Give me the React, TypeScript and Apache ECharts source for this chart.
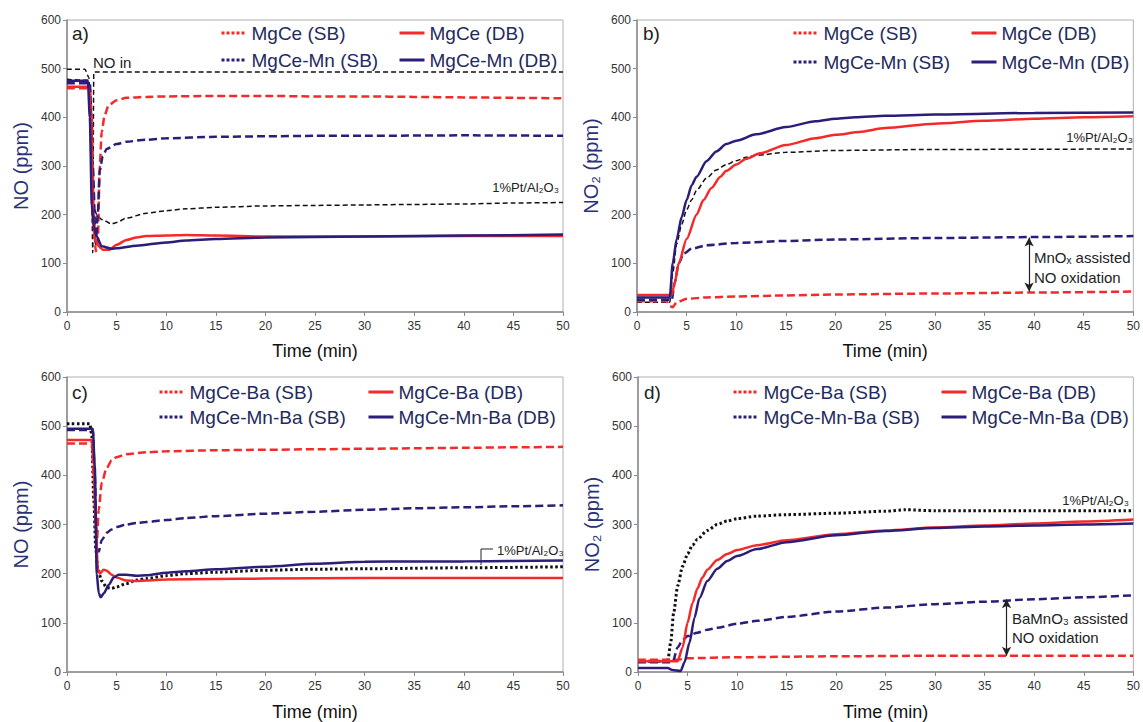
import React, { useEffect, useRef } from "react";
import * as echarts from "echarts";

// ---------- data (time in min, concentration in ppm) ----------
const xTicks = [0, 5, 10, 15, 20, 25, 30, 35, 40, 45, 50];
const yTicks = [0, 100, 200, 300, 400, 500, 600];

// panel a) NO
const aNOin = [[0, 499], [1.8, 499], [2.2, 482], [2.45, 300], [2.6, 122], [2.66, 122], [2.7, 493], [50, 493]];
const aPt = [[0, 478], [2.2, 476], [2.45, 330], [2.7, 215], [3, 200], [3.5, 190], [4.5, 181], [5, 184], [6, 193], [8, 203], [10, 208], [12, 212], [15, 215], [20, 218], [25, 219], [30, 220], [35, 221], [40, 222], [45, 224], [50, 225]];
const aMgCeSB = [[0, 460], [2.3, 460], [2.5, 400], [2.7, 200], [2.9, 125], [3.1, 140], [3.3, 300], [3.5, 370], [3.8, 405], [4.2, 425], [5, 435], [6, 440], [8, 442], [10, 443], [15, 444], [20, 444], [25, 443], [30, 443], [35, 442], [40, 441], [45, 440], [50, 439]];
const aMgCeMnSB = [[0, 470], [2.3, 470], [2.6, 300], [2.9, 140], [3.1, 200], [3.3, 290], [3.6, 320], [4, 335], [5, 345], [6, 350], [8, 354], [10, 357], [15, 360], [20, 361], [25, 362], [30, 362], [40, 363], [50, 362]];
const aMgCeDB = [[0, 463], [2.2, 463], [2.4, 400], [2.6, 200], [2.8, 150], [3.2, 135], [3.6, 128], [4.3, 128], [5, 138], [6, 148], [7, 153], [8, 156], [10, 157], [12, 158], [15, 157], [20, 155], [30, 155], [40, 156], [50, 156]];
const aMgCeMnDB = [[0, 475], [2.1, 475], [2.3, 400], [2.5, 220], [2.7, 175], [3, 155], [3.5, 135], [4.5, 130], [5, 131], [7, 136], [10, 143], [12, 147], [15, 150], [20, 153], [25, 154], [30, 155], [40, 157], [50, 159]];

// panel b) NO2
const bPt = [[0, 20], [3.3, 20], [3.6, 80], [4, 140], [4.5, 180], [5, 210], [5.5, 230], [6, 250], [7, 275], [8, 292], [9, 303], [10, 311], [11, 318], [12, 322], [15, 328], [20, 332], [30, 334], [50, 335]];
const bMgCeSB = [[0, 22], [3, 22], [3.3, 12], [3.6, 10], [4, 20], [5, 27], [7, 30], [10, 32], [15, 34], [20, 36], [30, 38], [40, 40], [50, 42]];
const bMgCeMnSB = [[0, 25], [3.5, 25], [3.8, 60], [4.2, 100], [4.7, 120], [5.5, 130], [7, 137], [10, 142], [15, 146], [20, 149], [30, 152], [40, 154], [50, 156]];
const bMgCeDB = [[0, 35], [3.5, 35], [3.8, 60], [4.2, 100], [5, 150], [6, 200], [6.7, 230], [7.5, 255], [8.4, 278], [9, 290], [10, 303], [11, 315], [12.4, 326], [15, 343], [18, 357], [20, 364], [22.4, 370], [25, 378], [30, 387], [35, 393], [40, 397], [45, 400], [50, 402]];
const bMgCeMnDB = [[0, 30], [3.3, 30], [3.6, 100], [4, 150], [4.5, 195], [5, 230], [5.5, 260], [6, 278], [7, 310], [8, 330], [9, 345], [10, 352], [12, 365], [15, 380], [18, 392], [20, 397], [22, 400], [25, 403], [30, 406], [40, 409], [50, 410]];

// panel c) NO
const cPt = [[0, 505], [2.3, 505], [2.5, 480], [2.7, 350], [2.9, 250], [3.1, 210], [3.5, 185], [4, 172], [4.5, 170], [5, 173], [6, 180], [7, 187], [8, 190], [10, 196], [12, 200], [15, 203], [20, 207], [25, 209], [30, 210], [40, 212], [50, 214]];
const cMgCeBaSB = [[0, 465], [2.5, 465], [2.7, 400], [2.9, 300], [3, 260], [3.2, 330], [3.5, 385], [4, 415], [4.5, 430], [5, 437], [6, 443], [8, 447], [10, 449], [15, 451], [20, 452], [25, 453], [30, 454], [35, 455], [40, 456], [45, 457], [50, 458]];
const cMgCeMnBaSB = [[0, 492], [2.6, 492], [2.8, 400], [3, 250], [3.2, 245], [3.5, 268], [4, 283], [4.5, 290], [5, 295], [6, 300], [7, 303], [8, 305], [10, 309], [12, 313], [15, 317], [20, 322], [25, 326], [30, 330], [35, 333], [40, 335], [45, 337], [50, 339]];
const cMgCeBaDB = [[0, 472], [2.5, 472], [2.7, 420], [2.9, 300], [3.1, 210], [3.3, 200], [3.7, 208], [4, 206], [4.5, 198], [5, 192], [6, 186], [7, 185], [8, 186], [10, 188], [15, 189], [20, 190], [30, 191], [40, 191], [50, 191]];
const cMgCeMnBaDB = [[0, 495], [2.6, 495], [2.8, 420], [3, 200], [3.2, 160], [3.4, 152], [3.7, 160], [4.2, 177], [4.7, 192], [5.2, 198], [6, 198], [7, 196], [8, 197], [10, 202], [12, 205], [15, 209], [20, 214], [25, 220], [30, 224], [35, 225], [40, 225], [45, 226], [50, 227]];

// panel d) NO2
const dPt = [[0, 22], [3, 22], [3.3, 60], [3.6, 120], [4, 175], [4.5, 215], [5, 240], [5.5, 258], [6, 270], [7, 288], [8, 300], [9, 307], [10, 312], [12, 317], [15, 320], [20, 323], [25, 327], [27, 330], [30, 328], [40, 328], [50, 328]];
const dMgCeBaSB = [[0, 25], [4, 25], [5, 28], [10, 30], [20, 32], [30, 33], [40, 33], [50, 33]];
const dMgCeMnBaSB = [[0, 20], [3.5, 20], [4, 50], [4.5, 65], [5, 73], [6, 80], [7, 86], [8, 90], [10, 98], [12, 104], [15, 112], [20, 123], [25, 131], [30, 138], [35, 143], [40, 148], [45, 152], [50, 156]];
const dMgCeBaDB = [[0, 22], [4, 22], [4.5, 50], [5, 100], [5.5, 140], [6, 170], [6.5, 192], [7, 208], [8, 228], [9, 240], [10, 248], [12, 258], [15, 268], [20, 280], [25, 288], [30, 294], [35, 298], [40, 302], [45, 306], [50, 310]];
const dMgCeMnBaDB = [[0, 8], [3, 8], [3.5, 4], [4.3, 2], [4.7, 20], [5.2, 60], [5.7, 110], [6.2, 150], [7, 185], [8, 210], [9, 226], [10, 236], [12, 250], [15, 264], [20, 278], [25, 287], [30, 293], [35, 296], [40, 298], [45, 300], [50, 302]];

// arrows (time, upper, lower)
const bArrow = [39.5, 153, 42];
const dArrow = [37.2, 148, 33];

const FONT = "Liberation Sans, Arial, Helvetica, sans-serif";
const RED = "#f42a2a";
const BLUE = "#2b1d78";
const NAVY_TEXT = "#1f2a5e";

type Kind = "sb" | "db" | "ref" | "dot";

function mk(name: string, data: number[][], color: string, kind: Kind, idx: number, extra: any = {}) {
  const ls: any = { color, width: 2.5, type: "solid" };
  if (kind === "sb") ls.type = [8, 4];
  if (kind === "ref") { ls.type = [5, 3]; ls.width = 1.5; }
  if (kind === "dot") { ls.type = [2.5, 2.5]; ls.width = 3; }
  return {
    type: "line",
    name,
    data,
    xAxisIndex: idx,
    yAxisIndex: idx,
    symbol: "none",
    smooth: 0.25,
    smoothMonotone: "x",
    lineStyle: ls,
    itemStyle: { color },
    silent: true,
    ...extra,
  };
}

function arrowLine(a: number[]) {
  return {
    silent: true,
    symbol: ["arrow", "arrow"],
    symbolSize: [7, 9],
    label: { show: false },
    lineStyle: { color: "#222", type: "solid", width: 1.2 },
    itemStyle: { color: "#222" },
    data: [[{ coord: [a[0], a[1]] }, { coord: [a[0], a[2]] }]],
  };
}

const grids = [
  { left: 67, top: 20, width: 496, height: 292 },
  { left: 637, top: 20, width: 497, height: 292 },
  { left: 67, top: 377, width: 496, height: 296 },
  { left: 638, top: 377, width: 496, height: 296 },
];
const yNames = ["NO (ppm)", "NO\u2082 (ppm)", "NO (ppm)", "NO\u2082 (ppm)"];

function legendCol(left: number, top: number, gap: number, items: { name: string; dotted: boolean }[]) {
  return {
    orient: "vertical",
    left,
    top,
    padding: 0,
    itemGap: gap,
    itemWidth: 25,
    itemHeight: 12,
    selectedMode: false,
    itemStyle: { opacity: 0, borderWidth: 0 },
    textStyle: { fontSize: 19, color: NAVY_TEXT, fontFamily: FONT, lineHeight: 20 },
    data: items.map((it) => ({
      name: it.name,
      itemStyle: { opacity: 0, borderWidth: 0 },
      lineStyle: it.dotted ? { type: [3, 2], width: 3 } : { type: "solid", width: 3 },
    })),
  };
}

export default function App() {
  const ref = useRef<HTMLDivElement>(null);
  useEffect(() => {
    if (!ref.current) return;
    const chart = echarts.init(ref.current, null, { renderer: "svg" });
    const xAxis = grids.map((_, i) => ({
      type: "value",
      gridIndex: i,
      min: 0,
      max: 50,
      interval: 5,
      name: "Time (min)",
      nameLocation: "middle",
      nameGap: i < 2 ? 30 : 31,
      nameTextStyle: { fontSize: 18, color: "#111", fontFamily: FONT },
      axisLine: { lineStyle: { color: "#8a8a8a", width: 1.5 } },
      axisTick: { show: true, length: 4, lineStyle: { color: "#8a8a8a" } },
      axisLabel: { fontSize: 12, color: "#333", fontFamily: FONT, margin: 8 },
      splitLine: { show: false },
    }));
    const yAxis = grids.map((_, i) => ({
      type: "value",
      gridIndex: i,
      min: 0,
      max: 600,
      interval: 100,
      name: yNames[i],
      nameLocation: "middle",
      nameGap: 36,
      nameTextStyle: { fontSize: 20, color: "#2b3175", fontFamily: FONT },
      axisLine: { show: true, lineStyle: { color: "#8a8a8a", width: 1.5 } },
      axisTick: { show: true, length: 4, lineStyle: { color: "#8a8a8a" } },
      axisLabel: { fontSize: 12, color: "#333", fontFamily: FONT, margin: 6 },
      splitLine: { show: false },
    }));

    const series = [
      mk("NO in", aNOin, "#111", "ref", 0),
      mk("1%Pt/Al2O3 a", aPt, "#111", "ref", 0),
      mk("MgCe (SB)", aMgCeSB, RED, "sb", 0),
      mk("MgCe-Mn (SB)", aMgCeMnSB, BLUE, "sb", 0),
      mk("MgCe (DB)", aMgCeDB, RED, "db", 0),
      mk("MgCe-Mn (DB)", aMgCeMnDB, BLUE, "db", 0),

      mk("1%Pt/Al2O3 b", bPt, "#111", "ref", 1),
      mk("MgCe (SB)", bMgCeSB, RED, "sb", 1),
      mk("MgCe-Mn (SB)", bMgCeMnSB, BLUE, "sb", 1, { markLine: arrowLine(bArrow) }),
      mk("MgCe (DB)", bMgCeDB, RED, "db", 1),
      mk("MgCe-Mn (DB)", bMgCeMnDB, BLUE, "db", 1),

      mk("1%Pt/Al2O3 c", cPt, "#111", "dot", 2),
      mk("MgCe-Ba (SB)", cMgCeBaSB, RED, "sb", 2),
      mk("MgCe-Mn-Ba (SB)", cMgCeMnBaSB, BLUE, "sb", 2),
      mk("MgCe-Ba (DB)", cMgCeBaDB, RED, "db", 2),
      mk("MgCe-Mn-Ba (DB)", cMgCeMnBaDB, BLUE, "db", 2),

      mk("1%Pt/Al2O3 d", dPt, "#111", "dot", 3),
      mk("MgCe-Ba (SB)", dMgCeBaSB, RED, "sb", 3),
      mk("MgCe-Mn-Ba (SB)", dMgCeMnBaSB, BLUE, "sb", 3, { markLine: arrowLine(dArrow) }),
      mk("MgCe-Ba (DB)", dMgCeBaDB, RED, "db", 3),
      mk("MgCe-Mn-Ba (DB)", dMgCeMnBaDB, BLUE, "db", 3),
    ];

    const legend = [
      legendCol(220, 23, 7, [{ name: "MgCe (SB)", dotted: true }, { name: "MgCe-Mn (SB)", dotted: true }]),
      legendCol(398, 23, 7, [{ name: "MgCe (DB)", dotted: false }, { name: "MgCe-Mn (DB)", dotted: false }]),
      legendCol(792, 23, 9, [{ name: "MgCe (SB)", dotted: true }, { name: "MgCe-Mn (SB)", dotted: true }]),
      legendCol(970, 23, 9, [{ name: "MgCe (DB)", dotted: false }, { name: "MgCe-Mn (DB)", dotted: false }]),
      legendCol(158, 382, 5, [{ name: "MgCe-Ba (SB)", dotted: true }, { name: "MgCe-Mn-Ba (SB)", dotted: true }]),
      legendCol(367, 382, 5, [{ name: "MgCe-Ba (DB)", dotted: false }, { name: "MgCe-Mn-Ba (DB)", dotted: false }]),
      legendCol(732, 382, 5, [{ name: "MgCe-Ba (SB)", dotted: true }, { name: "MgCe-Mn-Ba (SB)", dotted: true }]),
      legendCol(940, 382, 5, [{ name: "MgCe-Ba (DB)", dotted: false }, { name: "MgCe-Mn-Ba (DB)", dotted: false }]),
    ];

    const txt = (text: string, x: number, y: number, size: number, align = "left", extra: any = {}) => ({
      type: "text",
      x,
      y,
      silent: true,
      style: { text, fontSize: size, fontFamily: FONT, fill: "#222", align, verticalAlign: "middle", ...extra },
    });

    const graphic = [
      txt("a)", 72, 33, 19),
      txt("b)", 643, 33, 19),
      txt("c)", 72, 392, 19),
      txt("d)", 644, 392, 19),
      txt("NO in", 93, 62, 15),
      txt("1%Pt/Al\u2082O\u2083", 559, 187, 13, "right"),
      txt("1%Pt/Al\u2082O\u2083", 1133, 137, 13, "right"),
      txt("1%Pt/Al\u2082O\u2083", 497, 550, 13, "left"),
      txt("1%Pt/Al\u2082O\u2083", 1129, 500, 13, "right"),
      {
        type: "polyline",
        silent: true,
        shape: { points: [[481, 565], [481, 549], [493, 549]] },
        style: { stroke: "#222", lineWidth: 1, fill: "none" },
      },
      txt("MnO\u2093 assisted\nNO oxidation", 1034, 267, 15, "left", { lineHeight: 20 }),
      txt("BaMnO\u2083 assisted\nNO oxidation", 1012, 628, 15, "left", { lineHeight: 19 }),
    ];

    chart.setOption({
      animation: false,
      backgroundColor: "#fff",
      grid: grids.map((g) => ({ ...g, show: true, borderColor: "#b0b0b0", borderWidth: 1, backgroundColor: "transparent", containLabel: false })),
      xAxis,
      yAxis,
      legend,
      series,
      graphic,
    });
    return () => chart.dispose();
  }, []);
  return <div ref={ref} style={{ position: "fixed", left: 0, top: 0, width: 1143, height: 722 }} />;
}
